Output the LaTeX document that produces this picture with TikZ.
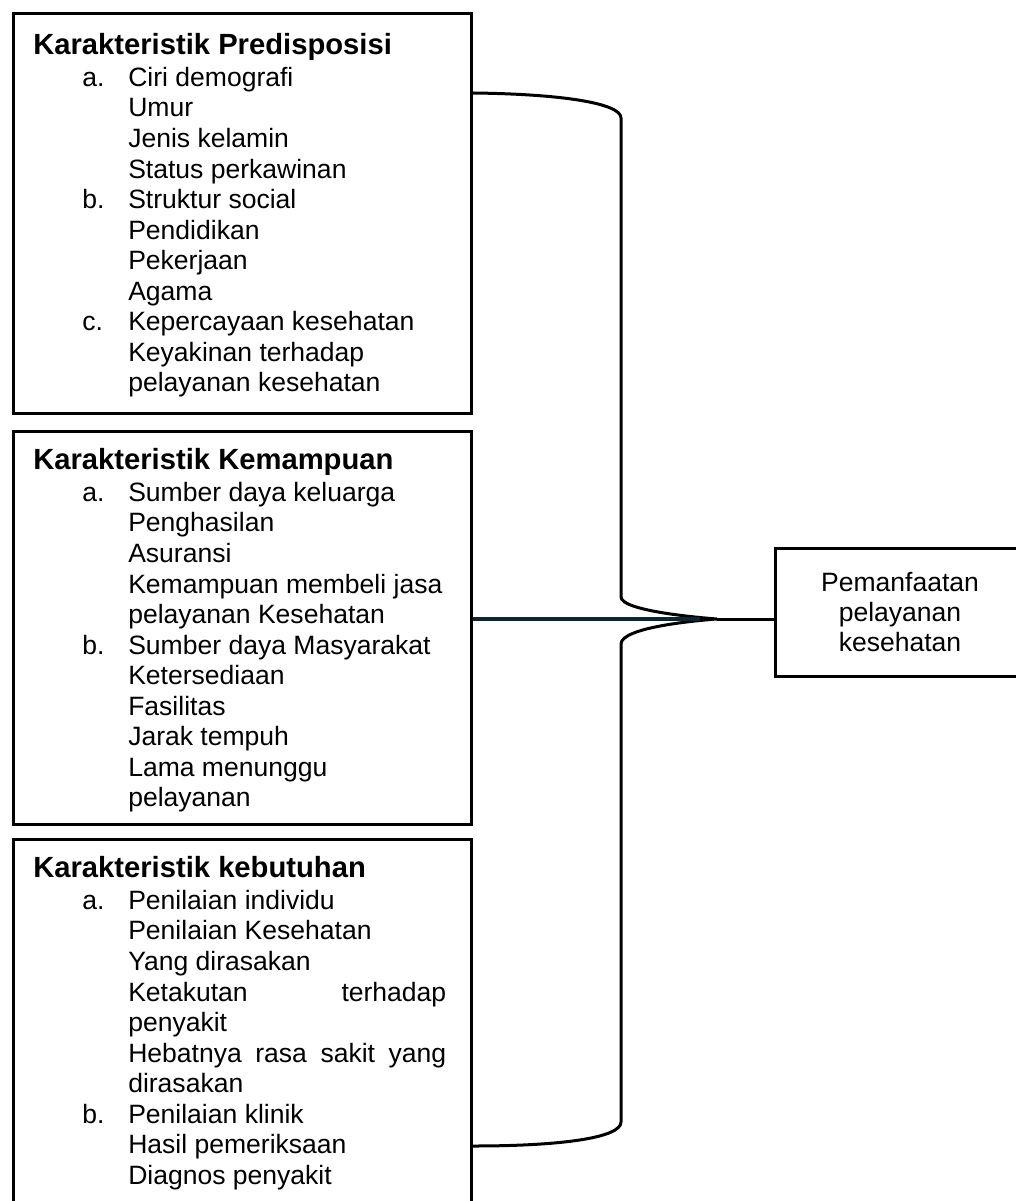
\documentclass[tikz,border=0pt]{standalone}
\usepackage{fontspec}
\setmainfont{Liberation Sans}
\usetikzlibrary{calc}
\definecolor{biruhitam}{RGB}{12,38,51}
\newcommand{\judul}[1]{{\fontsize{21.9}{22.9}\selectfont\bfseries #1}}
\newcommand{\butir}[2]{\hspace*{36.75pt}\makebox[34.5pt][l]{#1}#2}
\newcommand{\lanjut}[1]{\hspace*{71.25pt}#1}
\newcommand{\rata}[1]{\makebox[238.5pt][s]{#1}}
\tikzset{
  kotak/.style={draw,line width=2.25pt,minimum width=343.5pt,anchor=north west,inner sep=0pt},
  isi/.style={anchor=north west,inner sep=0pt,align=left,font=\fontsize{19.9}{22.9}\selectfont},
  kurung/.style={line width=2.25pt}
}
\begin{document}
\begin{tikzpicture}[x=0.75pt,y=-0.75pt]
\useasboundingbox (0,0) rectangle (1015,1201);
\node[kotak,minimum height=300pt] (pred) at (12,12) {};
\node[kotak,minimum height=294.75pt] (mampu) at (12,430) {};
\node[kotak,minimum height=315pt] (butuh) at (12,838) {};
\node[draw,line width=2.25pt,minimum width=187.5pt,minimum height=96pt,align=center,font=\fontsize{19.9}{22.5}\selectfont] (manfaat) at (900,612) {Pemanfaatan\\pelayanan\\kesehatan};

\node[isi] (isipred) at (33,33) {\judul{Karakteristik Predisposisi}\\[1.1pt]
\butir{a.}{Ciri demografi}\\
\lanjut{Umur}\\
\lanjut{Jenis kelamin}\\
\lanjut{Status perkawinan}\\
\butir{b.}{Struktur social}\\
\lanjut{Pendidikan}\\
\lanjut{Pekerjaan}\\
\lanjut{Agama}\\
\butir{c.}{Kepercayaan kesehatan}\\
\lanjut{Keyakinan terhadap}\\
\lanjut{pelayanan kesehatan}};
\node[isi] (isimampu) at (33,448) {\judul{Karakteristik Kemampuan}\\[1.1pt]
\butir{a.}{Sumber daya keluarga}\\
\lanjut{Penghasilan}\\
\lanjut{Asuransi}\\
\lanjut{Kemampuan membeli jasa}\\
\lanjut{pelayanan Kesehatan}\\
\butir{b.}{Sumber daya Masyarakat}\\
\lanjut{Ketersediaan}\\
\lanjut{Fasilitas}\\
\lanjut{Jarak tempuh}\\
\lanjut{Lama menunggu}\\
\lanjut{pelayanan}};
\node[isi] (isibutuh) at (33,856) {\judul{Karakteristik kebutuhan}\\[1.1pt]
\butir{a.}{Penilaian individu}\\
\lanjut{Penilaian Kesehatan}\\
\lanjut{Yang dirasakan}\\
\lanjut{\rata{Ketakutan terhadap}}\\
\lanjut{penyakit}\\
\lanjut{\rata{Hebatnya rasa sakit yang}}\\
\lanjut{dirasakan}\\
\butir{b.}{Penilaian klinik}\\
\lanjut{Hasil pemeriksaan}\\
\lanjut{Diagnos penyakit}};

\coordinate (ujung) at (717,619);
\draw[kurung] ($(pred.north east)+(0,81)$) .. controls (560,94) and (621,103) .. (621,118) -- (621,597)
  .. controls (621,610) and (690,617) .. (ujung) .. controls (690,621) and (621,628) .. (621,644) -- (621,1122)
  .. controls (621,1138) and (560,1146) .. ($(butuh.north east)+(0,308)$);
\draw[kurung] (ujung) -- (ujung -| manfaat.west);
\draw[line width=3.5pt,biruhitam] ($(mampu.north east)+(0,189)$) -- (700,619);
\end{tikzpicture}
\end{document}
